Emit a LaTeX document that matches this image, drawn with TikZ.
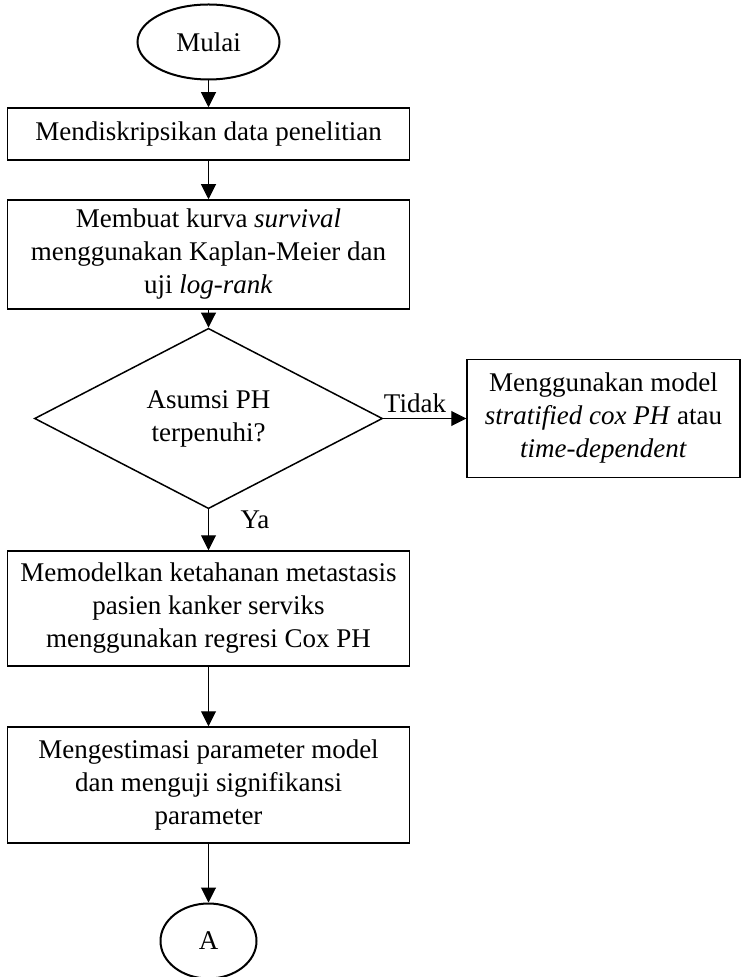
\documentclass[tikz,border=0pt]{standalone}
\usepackage{fontspec}
\setmainfont{Liberation Serif}
\usetikzlibrary{shapes.geometric,arrows.meta}

\begin{document}
\begin{tikzpicture}[x=0.5pt, y=-0.5pt, line width=0.75pt,
  font=\fontsize{13.5}{16.5}\selectfont,
  proses/.style={draw, rectangle, align=center, inner sep=0pt, minimum width=201pt},
  terminal/.style={draw, ellipse, line width=1pt, inner sep=0pt, minimum height=37.5pt},
  panah/.style={line width=0.5pt, -{Triangle[length=7.5pt,width=7.5pt]}}]
  \useasboundingbox (0,0) rectangle (741,977);
  % mulai
  \node[terminal, minimum width=71pt] (mulai) at (208.5,42) {Mulai};
  % proses utama
  \node[proses, minimum height=26pt] (d1) at (208.5,134) {Mendiskripsikan data penelitian};
  \node[proses, minimum height=54.5pt] (d2) at (208.5,254.5) {Membuat kurva \textit{survival}\\menggunakan Kaplan-Meier dan\\uji \textit{log-rank}};
  \node[draw, diamond, align=center, inner sep=0pt, minimum width=174pt, minimum height=71pt] (cek) at (208.5,418.5) {Asumsi PH\\terpenuhi?};
  \node[proses, minimum width=136.5pt, minimum height=59pt] (alt) at (603.5,418.5) {Menggunakan model\\\textit{stratified cox PH} atau\\\textit{time-dependent}};
  \node[proses, minimum height=57.5pt] (d3) at (208.5,608.5) {Memodelkan ketahanan metastasis\\pasien kanker serviks\\menggunakan regresi Cox PH};
  \node[proses, minimum height=58pt] (d4) at (208.5,785) {Mengestimasi parameter model\\dan menguji signifikansi\\parameter};
  % konektor A
  \node[terminal, minimum width=48pt] (a) at (208.5,941) {A};
  % panah
  \draw[panah] (mulai) -- (d1);
  \draw[panah] (d1) -- (d2);
  \draw[panah] (d2) -- (cek);
  \draw[panah] (cek) -- (alt);
  \draw[panah] (cek) -- (d3);
  \draw[panah] (d3) -- (d4);
  \draw[panah] (d4) -- (a);
  % label cabang
  \node (tidak) at (415,403) {Tidak};
  \node (ya) at (255,520) {Ya};
\end{tikzpicture}
\end{document}
